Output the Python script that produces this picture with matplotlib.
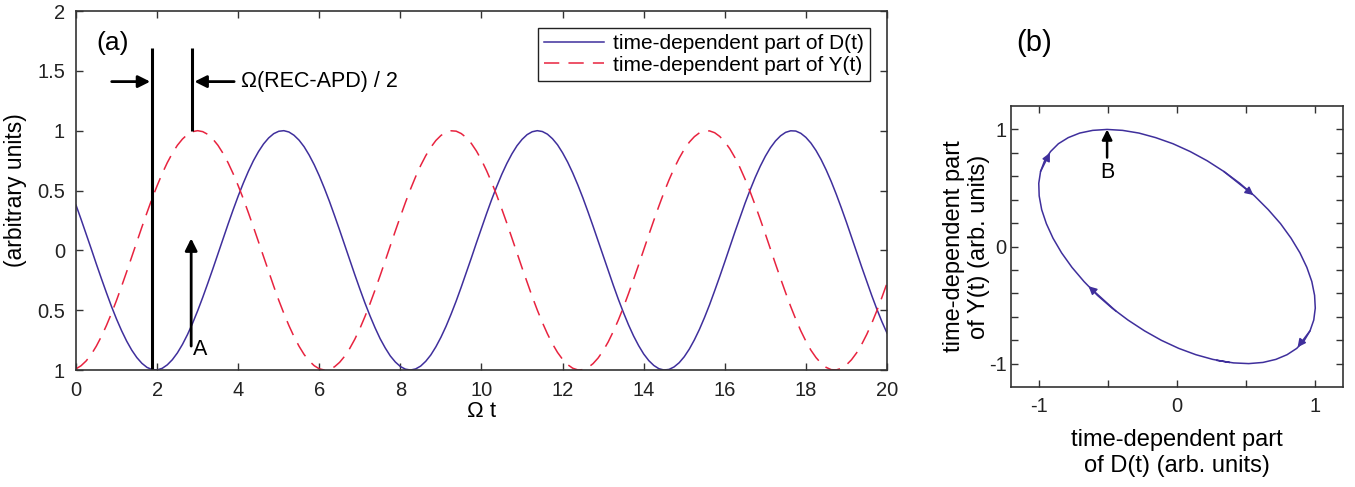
import numpy as np
import matplotlib
matplotlib.use("Agg")
import matplotlib.pyplot as plt

plt.rcParams["font.family"] = ["Liberation Sans", "DejaVu Sans"]

# -----------------------------------------------------
# Data (read off the reference, sampled every 0.125 in Omega t)
# -----------------------------------------------------

omega_t = np.arange(0, 20.0001, 0.125)

d_part = [
    0.378, 0.259, 0.137, 0.013, -0.113, -0.235, -0.354, -0.469,
    -0.575, -0.672, -0.759, -0.834, -0.896, -0.944, -0.978, -0.996,
    -0.999, -0.986, -0.957, -0.914, -0.857, -0.786, -0.703, -0.609,
    -0.505, -0.393, -0.275, -0.154, -0.029, 0.096, 0.219, 0.339,
    0.454, 0.561, 0.660, 0.749, 0.825, 0.889, 0.939, 0.975,
    0.995, 1.000, 0.989, 0.962, 0.921, 0.866, 0.796, 0.715,
    0.622, 0.519, 0.409, 0.291, 0.170, 0.046, -0.079, -0.203,
    -0.323, -0.439, -0.547, -0.647, -0.738, -0.815, -0.882, -0.933,
    -0.971, -0.993, -1.000, -0.991, -0.967, -0.927, -0.874, -0.806,
    -0.726, -0.635, -0.533, -0.424, -0.307, -0.186, -0.063, 0.063,
    0.186, 0.307, 0.424, 0.533, 0.635, 0.726, 0.806, 0.874,
    0.927, 0.967, 0.991, 1.000, 0.993, 0.971, 0.933, 0.882,
    0.815, 0.737, 0.647, 0.547, 0.439, 0.323, 0.203, 0.079,
    -0.046, -0.170, -0.291, -0.409, -0.519, -0.622, -0.715, -0.796,
    -0.866, -0.921, -0.962, -0.989, -1.000, -0.995, -0.974, -0.939,
    -0.889, -0.825, -0.748, -0.660, -0.561, -0.454, -0.338, -0.219,
    -0.096, 0.030, 0.154, 0.275, 0.394, 0.505, 0.609, 0.703,
    0.786, 0.857, 0.914, 0.957, 0.986, 0.999, 0.997, 0.978,
    0.944, 0.896, 0.834, 0.759, 0.672, 0.575, 0.468, 0.354,
    0.235, 0.112, -0.013, -0.138, -0.259, -0.378, -0.491, -0.596,
    -0.691,
]

y_part = [
    -0.990, -0.964, -0.924, -0.870, -0.801, -0.720, -0.628, -0.526,
    -0.417, -0.299, -0.178, -0.054, 0.071, 0.195, 0.315, 0.432,
    0.540, 0.641, 0.732, 0.811, 0.878, 0.930, 0.969, 0.992,
    1.000, 0.992, 0.969, 0.930, 0.878, 0.811, 0.732, 0.641,
    0.540, 0.432, 0.315, 0.195, 0.071, -0.054, -0.178, -0.299,
    -0.417, -0.526, -0.628, -0.720, -0.801, -0.870, -0.924, -0.964,
    -0.990, -1.000, -0.994, -0.973, -0.936, -0.885, -0.820, -0.743,
    -0.654, -0.554, -0.446, -0.331, -0.211, -0.088, 0.038, 0.162,
    0.283, 0.401, 0.512, 0.615, 0.709, 0.791, 0.861, 0.918,
    0.960, 0.988, 0.999, 0.996, 0.976, 0.942, 0.893, 0.830,
    0.754, 0.666, 0.568, 0.461, 0.346, 0.227, 0.104, -0.021,
    -0.146, -0.267, -0.386, -0.498, -0.602, -0.697, -0.781, -0.853,
    -0.911, -0.955, -0.985, -0.999, -0.997, -0.980, -0.947, -0.900,
    -0.839, -0.765, -0.678, -0.582, -0.476, -0.362, -0.243, -0.121,
    0.004, 0.129, 0.251, 0.370, 0.484, 0.589, 0.685, 0.770,
    0.844, 0.904, 0.950, 0.982, 0.998, 0.998, 0.983, 0.952,
    0.907, 0.848, 0.775, 0.691, 0.595, 0.490, 0.377, 0.259,
    0.137, 0.012, -0.113, -0.235, -0.354, -0.469, -0.575, -0.673,
    -0.759, -0.835, -0.896, -0.944, -0.978, -0.997, -0.999, -0.986,
    -0.957, -0.914, -0.857, -0.786, -0.703, -0.609, -0.505, -0.393,
    -0.275,
]

x_ticks_a = [0, 2, 4, 6, 8, 10, 12, 14, 16, 18, 20]
y_ticks_a = [-1, -0.5, 0, 0.5, 1, 1.5, 2]
y_tick_labels_a = ["1", "0.5", "0", "0.5", "1", "1.5", "2"]

x_ticks_b = [-1, -0.5, 0, 0.5, 1]
x_tick_labels_b = ["-1", "", "0", "", "1"]
y_ticks_b = [-1, -0.8, -0.6, -0.4, -0.2, 0, 0.2, 0.4, 0.6, 0.8, 1]
y_tick_labels_b = ["-1", "", "", "", "", "0", "", "", "", "", "1"]

# one full cycle is enough for the loop in (b)
loop_end = 52
# sample indices (from, to) where the direction arrowheads sit
loop_arrows = [(17, 19), (31, 33), (43, 45), (57, 59)]
top_index = 24

BLUE = "#3f2f9c"
RED = "#e8233f"
AXC = "#333333"


def style_axes(ax):
    for s in ax.spines.values():
        s.set_color(AXC)
        s.set_linewidth(1.2)
    ax.tick_params(direction="in", top=True, right=True, length=5,
                   width=1.0, color=AXC, labelsize=14.5, labelcolor="#222222",
                   pad=8)


fig = plt.figure(figsize=(13.55, 4.87), dpi=100)

# =====================================================
# (a) time traces
# =====================================================

ax1 = fig.add_axes([0.0561, 0.2402, 0.5985, 0.7372])
ax1.plot(omega_t, d_part, color=BLUE, lw=1.1,
         label="time-dependent part of D(t)")
ax1.plot(omega_t, y_part, color=RED, lw=1.1, dashes=[10, 6],
         label="time-dependent part of Y(t)")

ax1.set_xlim(0, 20)
ax1.set_ylim(-1, 2)
ax1.set_xticks(x_ticks_a)
ax1.set_yticks(y_ticks_a)
ax1.set_yticklabels(y_tick_labels_a)
style_axes(ax1)
ax1.set_xlabel("Ω t", fontsize=16)
ax1.set_ylabel("(arbitrary units)", fontsize=16.5)
ax1.xaxis.set_label_coords(0.5, -0.086)
ax1.yaxis.set_label_coords(-0.060, 0.5)

leg = ax1.legend(loc="upper right", bbox_to_anchor=(0.979, 0.9526),
                 borderaxespad=0, fancybox=False, edgecolor="#222222",
                 framealpha=1, fontsize=15, handlelength=2.9,
                 handletextpad=0.4, borderpad=0.3, labelspacing=0.12)
leg.get_frame().set_linewidth(1.0)

# phase-shift bracket
ax1.vlines(1.87, -1, 1.69, color="k", lw=2.2)
ax1.vlines(2.86, 1, 1.69, color="k", lw=2.2)
ax1.annotate("", xy=(1.83, 1.41), xytext=(0.88, 1.41),
             arrowprops=dict(arrowstyle="-|>", color="k", lw=2.0,
                             mutation_scale=18, shrinkA=0, shrinkB=0))
ax1.annotate("", xy=(2.92, 1.41), xytext=(3.9, 1.41),
             arrowprops=dict(arrowstyle="-|>", color="k", lw=2.0,
                             mutation_scale=18, shrinkA=0, shrinkB=0))
ax1.text(4.07, 1.41, "Ω(REC-APD) / 2", fontsize=15.5, va="center", ha="left")

ax1.annotate("", xy=(2.84, 0.1), xytext=(2.84, -0.8),
             arrowprops=dict(arrowstyle="-|>", color="k", lw=2.0,
                             mutation_scale=18, shrinkA=0, shrinkB=0))
ax1.text(2.88, -0.83, "A", fontsize=15.5, va="center", ha="left")

ax1.text(0.5, 1.73, "(a)", fontsize=19, va="center", ha="left")

# =====================================================
# (b) D vs Y loop
# =====================================================

ax2 = fig.add_axes([0.7461, 0.2053, 0.2450, 0.5770])
ax2.plot(d_part[:loop_end], y_part[:loop_end], color=BLUE, lw=1.1)

for i, j in loop_arrows:
    ax2.annotate("", xy=(d_part[j], y_part[j]), xytext=(d_part[i], y_part[i]),
                 arrowprops=dict(arrowstyle="-|>,head_length=0.6,head_width=0.3",
                                 color=BLUE, lw=1.1, mutation_scale=8,
                                 shrinkA=0, shrinkB=1))

ax2.annotate("", xy=(d_part[top_index], y_part[top_index]),
             xytext=(d_part[top_index], 0.76),
             arrowprops=dict(arrowstyle="-|>,head_length=0.5,head_width=0.25",
                             color="k", lw=1.8, mutation_scale=12,
                             shrinkA=0, shrinkB=0))
ax2.text(d_part[top_index], 0.63, "B", fontsize=15.5, va="center", ha="center")

ax2.set_xlim(-1.2, 1.2)
ax2.set_ylim(-1.2, 1.2)
ax2.set_xticks(x_ticks_b)
ax2.set_xticklabels(x_tick_labels_b)
ax2.set_yticks(y_ticks_b)
ax2.set_yticklabels(y_tick_labels_b)
style_axes(ax2)
ax2.tick_params(axis="x", pad=7)
ax2.tick_params(axis="y", pad=3)
ax2.set_xlabel("time-dependent part\nof D(t) (arb. units)", fontsize=17,
               linespacing=1.2)
ax2.set_ylabel("time-dependent part\nof Y(t) (arb. units)", fontsize=17,
               linespacing=1.2)
ax2.xaxis.set_label_coords(0.5, -0.150)
ax2.yaxis.set_label_coords(-0.063, 0.5)

fig.text(1034 / 1355, 1 - 43 / 487, "(b)", fontsize=21, ha="center", va="center")

fig.savefig("out.png", dpi=100)
